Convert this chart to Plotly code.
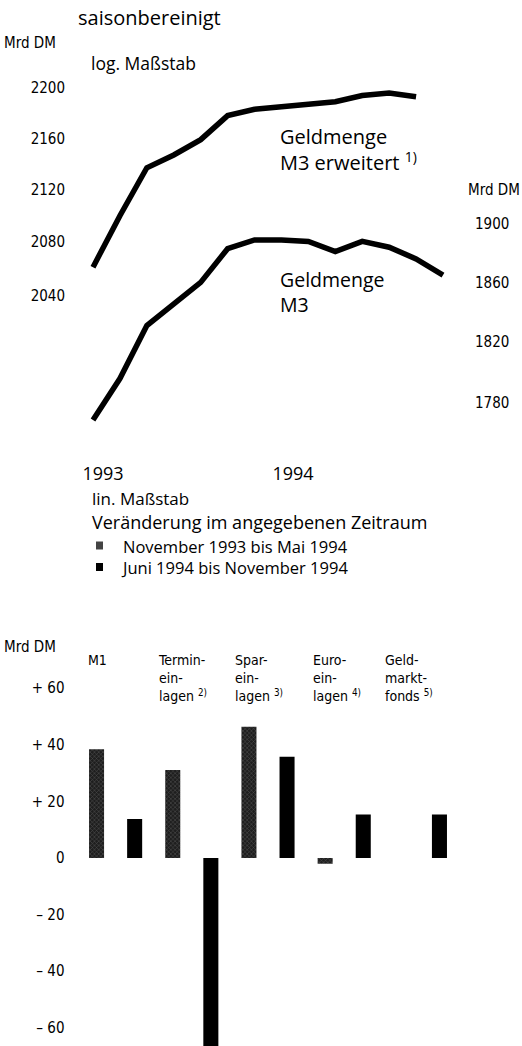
import plotly.graph_objects as go
import math

# ---------------- data ----------------
month_idx_m3 = list(range(14))          # Okt 1993 .. Nov 1994 (monthly)
month_idx_m3e = list(range(13))
m3_erweitert = [2061, 2100, 2137, 2147, 2159, 2178, 2183, 2185, 2187, 2189, 2194, 2196, 2193]
m3 = [1769, 1796, 1831, 1846, 1860, 1883, 1889, 1889, 1888, 1881, 1888, 1884, 1876, 1865]

left_ticks = [2040, 2080, 2120, 2160, 2200]
right_ticks = [1780, 1820, 1860, 1900]
year_ticks = [0.37, 7.43]
year_labels = ["1993", "1994"]

categories = ["M1", "Termin-<br>ein-<br>lagen <sup>2)</sup>", "Spar-<br>ein-<br>lagen <sup>3)</sup>",
              "Euro-<br>ein-<br>lagen <sup>4)</sup>", "Geld-<br>markt-<br>fonds <sup>5)</sup>"]
period1 = [38.4, 31.1, 46.4, -2.0, None]     # November 1993 bis Mai 1994
period2 = [13.8, -70.0, 35.8, 15.4, 15.4]    # Juni 1994 bis November 1994
bar_ticks = [-60, -40, -20, 0, 20, 40, 60]
bar_ticklabels = ["\u2013 60", "\u2013 40", "\u2013 20", "0", "+ 20", "+ 40", "+ 60"]
legend_labels = ["November 1993 bis Mai 1994", "Juni 1994 bis November 1994"]

# ---------------- layout helpers ----------------
W, H = 522, 1046
def fx(px): return px / W
def fy(py): return 1 - py / H

MAIN = "Open Sans, Noto Sans, sans-serif"
NARROW = "Liberation Sans Narrow, DejaVu Sans Condensed, sans-serif"

# top panel geometry (pixels)
top_y0, top_y1 = 80, 455
ppl = 2745.0   # pixels per ln-unit
span = (top_y1 - top_y0) / ppl
l_top = math.log(2200) + (88 - top_y0) / ppl
r_top = math.log(1900) + (224 - top_y0) / ppl
lrange = [(l_top - span) / math.log(10), l_top / math.log(10)]
rrange = [(r_top - span) / math.log(10), r_top / math.log(10)]

xstep = (443 - 93) / 13
x0px, x1px = 80, 460
xr = [(x0px - 93) / xstep, (x1px - 93) / xstep]

# bottom panel geometry
b_top, b_bot = 680, 1046
zero_py, ppu = 858, 2.83
brange = [-(b_bot - zero_py) / ppu, (zero_py - b_top) / ppu]

fig = go.Figure()

fig.add_trace(go.Scatter(x=month_idx_m3e, y=m3_erweitert, mode="lines",
                         line=dict(color="black", width=5.5), xaxis="x", yaxis="y",
                         showlegend=False))
fig.add_trace(go.Scatter(x=month_idx_m3, y=m3, mode="lines",
                         line=dict(color="black", width=5.5), xaxis="x", yaxis="y2",
                         showlegend=False))

cat_idx = list(range(len(categories)))
fig.add_trace(go.Bar(x=cat_idx, y=period1, xaxis="x3", yaxis="y3", showlegend=False,
                     name=legend_labels[0],
                     marker=dict(color="#1e1e1e", line=dict(width=0),
                                 pattern=dict(shape="x", fgcolor="#8c8c8c", size=3, solidity=0.3))))
fig.add_trace(go.Bar(x=cat_idx, y=period2, xaxis="x3", yaxis="y3", showlegend=False,
                     name=legend_labels[1],
                     marker=dict(color="black", line=dict(width=0))))

tickfont = dict(family=NARROW, size=15, color="black")

fig.update_layout(
    width=W, height=H, margin=dict(l=0, r=0, t=0, b=0),
    paper_bgcolor="white", plot_bgcolor="white",
    barmode="group", bargap=0, bargroupgap=0.605,
    font=dict(family=MAIN, color="black"),
    xaxis=dict(domain=[fx(x0px), fx(x1px)], range=xr, showgrid=False, zeroline=False,
               showline=False, tickmode="array", tickvals=year_ticks, ticktext=year_labels,
               ticks="", tickfont=dict(family=MAIN, size=18, color="black"), ticklabelstandoff=6),
    yaxis=dict(domain=[fy(top_y1), fy(top_y0)], type="log", range=lrange, showgrid=False,
               zeroline=False, showline=False, tickmode="array", tickvals=left_ticks,
               ticktext=[str(v) for v in left_ticks], ticks="", tickfont=tickfont,
               ticklabelstandoff=14),
    yaxis2=dict(overlaying="y", side="right", type="log", range=rrange, showgrid=False,
                zeroline=False, showline=False, tickmode="array", tickvals=right_ticks,
                ticktext=[str(v) for v in right_ticks], ticks="", tickfont=tickfont,
                ticklabelstandoff=14, anchor="x"),
    xaxis3=dict(domain=[fx(77.5), fx(458.5)], range=[-0.5, 4.5], showgrid=False, zeroline=False,
                showline=False, showticklabels=False, ticks="", anchor="y3"),
    yaxis3=dict(domain=[fy(b_bot), fy(b_top)], range=brange, showgrid=False, zeroline=True,
                zerolinecolor="white", zerolinewidth=5, layer="above traces", showline=False,
                tickmode="array", tickvals=bar_ticks, ticktext=bar_ticklabels, ticks="",
                tickfont=tickfont, ticklabelstandoff=12, anchor="x3"),
)

ann = []
def txt(x, y, s, size=18, family=MAIN, xanchor="left", yanchor="middle", align="left"):
    ann.append(dict(x=fx(x), y=fy(y), xref="paper", yref="paper", text=s, showarrow=False,
                    xanchor=xanchor, yanchor=yanchor, align=align,
                    font=dict(family=family, size=size, color="black")))

txt(76, 18, "saisonbereinigt", 20)
txt(2, 43, "Mrd DM", 15, NARROW)
txt(89, 63, "log. Maßstab", 17.5)
txt(278, 121, "Geldmenge<br>M3 erweitert <sup>1)</sup>", 20, yanchor="top")
txt(278, 264, "Geldmenge<br>M3", 19.5, yanchor="top")
txt(522, 190, "Mrd DM", 15, NARROW, xanchor="right")
txt(90, 498.5, "lin. Maßstab", 17)
txt(90, 522, "Veränderung im angegebenen Zeitraum", 18)
txt(119, 556.5, "<br>".join(legend_labels), 16.5)
txt(2, 647, "Mrd DM", 15, NARROW)
label_x = [86, 156, 233, 311, 383]
for lx, c in zip(label_x, categories):
    txt(lx, 650, c, 14, NARROW, yanchor="top")

fig.update_layout(annotations=ann)

# legend swatches
fig.add_shape(type="rect", xref="paper", yref="paper", x0=fx(96), x1=fx(103), y0=fy(549.5), y1=fy(541.5),
              fillcolor="#444444", line=dict(width=0))
fig.add_shape(type="rect", xref="paper", yref="paper", x0=fx(96), x1=fx(103), y0=fy(571), y1=fy(563),
              fillcolor="black", line=dict(width=0))

fig.write_html("out.html", config={"displayModeBar": False},
               post_script="document.body.style.margin='0px';")
